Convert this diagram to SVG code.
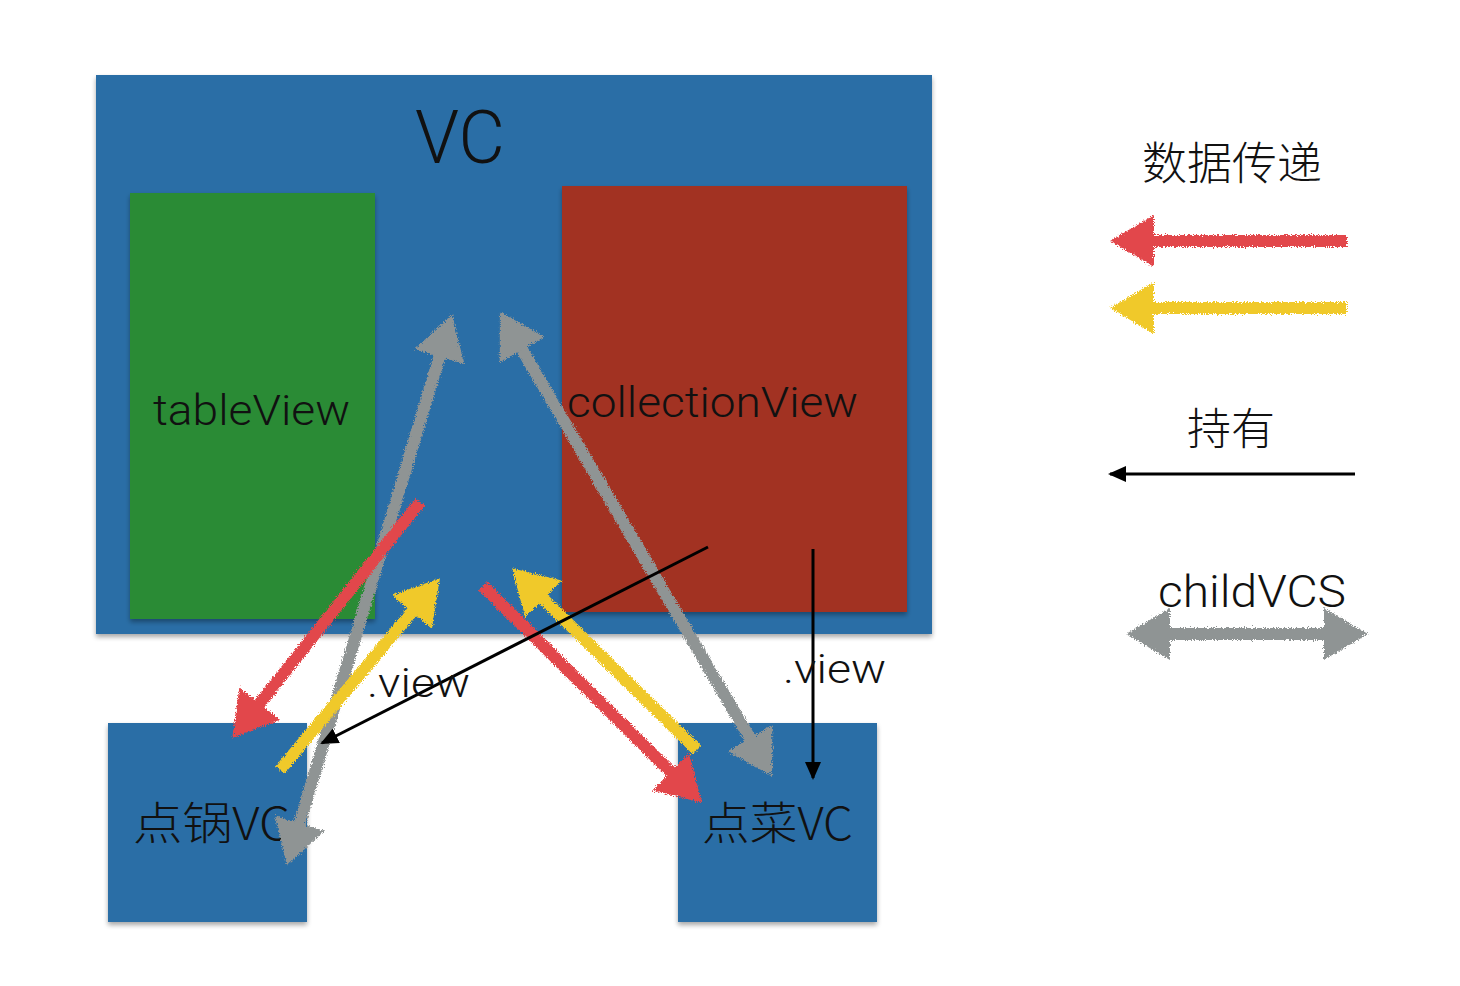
<svg xmlns="http://www.w3.org/2000/svg" width="1460" height="986" viewBox="0 0 1460 986">
<style>
.box{fill:#2a6ea6;filter:url(#shadow)}
.txt{font-family:Roboto,"Liberation Sans","Noto Sans CJK SC",sans-serif;font-weight:300;fill:#111}
.cjk{font-family:"Noto Sans CJK SC",sans-serif;font-weight:300;fill:#111}
.chalk{fill:none;stroke-width:12;stroke-linecap:butt;filter:url(#rough)}
.red{stroke:#e2474b}
.yellow{stroke:#f0c92a}
.gray{stroke:#8f9494}
.blk{fill:none;stroke:#000;stroke-width:3}
</style>
<defs>
<filter id="rough" filterUnits="userSpaceOnUse" x="0" y="0" width="1460" height="986">
<feTurbulence type="fractalNoise" baseFrequency="0.9" numOctaves="2" seed="3" result="n"/>
<feDisplacementMap in="SourceGraphic" in2="n" scale="6" xChannelSelector="R" yChannelSelector="G"/>
</filter>
<filter id="shadow" x="-5%" y="-5%" width="110%" height="110%">
<feGaussianBlur in="SourceAlpha" stdDeviation="2.5"/>
<feOffset dx="0" dy="3" result="b"/>
<feComponentTransfer><feFuncA type="linear" slope="0.35"/></feComponentTransfer>
<feMerge><feMergeNode/><feMergeNode in="SourceGraphic"/></feMerge>
</filter>
<marker id="hr" viewBox="0 0 44 52" markerWidth="44" markerHeight="52" refX="30" refY="26" orient="auto-start-reverse" markerUnits="userSpaceOnUse"><path d="M0,0 L44,26 L0,52 z" fill="#e2474b"/></marker>
<marker id="hy" viewBox="0 0 44 52" markerWidth="44" markerHeight="52" refX="30" refY="26" orient="auto-start-reverse" markerUnits="userSpaceOnUse"><path d="M0,0 L44,26 L0,52 z" fill="#f0c92a"/></marker>
<marker id="hg" viewBox="0 0 44 52" markerWidth="44" markerHeight="52" refX="30" refY="26" orient="auto-start-reverse" markerUnits="userSpaceOnUse"><path d="M0,0 L44,26 L0,52 z" fill="#8f9494"/></marker>
<marker id="hb" viewBox="0 0 18 16" markerWidth="18" markerHeight="16" refX="16" refY="8" orient="auto" markerUnits="userSpaceOnUse"><path d="M0,0 L18,8 L0,16 z" fill="#000"/></marker>
</defs>
<rect width="1460" height="986" fill="#fff"/>

<g id="vc">
<rect class="box" x="96" y="75" width="836" height="559"/>
<text class="txt" x="415" y="163" font-size="74" textLength="90" lengthAdjust="spacingAndGlyphs">VC</text>
</g>
<g id="tableView">
<rect x="130" y="193" width="245" height="426" fill="#2a8b36" filter="url(#shadow)"/>
<text class="txt" x="153" y="425" font-size="43" textLength="197" lengthAdjust="spacingAndGlyphs">tableView</text>
</g>
<g id="collectionView">
<rect x="562" y="186" width="345" height="426" fill="#a23324" filter="url(#shadow)"/>
<text class="txt" x="567" y="417" font-size="43" textLength="291" lengthAdjust="spacingAndGlyphs">collectionView</text>
</g>
<g id="dianguoVC">
<rect class="box" x="108" y="723" width="199" height="199"/>
<text class="cjk" x="133" y="840" font-size="45" textLength="157" lengthAdjust="spacingAndGlyphs">点锅VC</text>
</g>
<g id="diancaiVC">
<rect class="box" x="678" y="723" width="199" height="199"/>
<text class="cjk" x="702" y="840" font-size="45" textLength="151" lengthAdjust="spacingAndGlyphs">点菜VC</text>
</g>

<g id="connectors">
<line class="chalk gray" x1="291" y1="852" x2="448" y2="328" marker-start="url(#hg)" marker-end="url(#hg)"/>
<line class="chalk gray" x1="507" y1="324" x2="765" y2="764" marker-start="url(#hg)" marker-end="url(#hg)"/>
<line class="chalk red" x1="420" y1="502" x2="241" y2="727" marker-end="url(#hr)"/>
<line class="chalk yellow" x1="280" y1="770" x2="431" y2="589" marker-end="url(#hy)"/>
<line class="chalk red" x1="483" y1="586" x2="692" y2="793" marker-end="url(#hr)"/>
<line class="chalk yellow" x1="697" y1="750" x2="522" y2="578" marker-end="url(#hy)"/>
<line class="blk" x1="708" y1="547" x2="322" y2="743" marker-end="url(#hb)"/>
<line class="blk" x1="813" y1="549" x2="813" y2="778" marker-end="url(#hb)"/>
<text class="txt" x="367" y="697" font-size="41" textLength="103" lengthAdjust="spacingAndGlyphs">.view</text>
<text class="txt" x="783" y="683" font-size="41" textLength="103" lengthAdjust="spacingAndGlyphs">.view</text>
</g>

<g id="legend">
<text class="cjk" x="1232" y="180" font-size="45" text-anchor="middle">数据传递</text>
<line class="chalk red" x1="1347" y1="241" x2="1124" y2="241" marker-end="url(#hr)"/>
<line class="chalk yellow" x1="1347" y1="308" x2="1124" y2="308" marker-end="url(#hy)"/>
<text class="cjk" x="1231" y="445" font-size="44" text-anchor="middle">持有</text>
<line class="blk" x1="1355" y1="474" x2="1110" y2="474" marker-end="url(#hb)"/>
<text class="txt" x="1158" y="607" font-size="45" textLength="188" lengthAdjust="spacingAndGlyphs">childVCS</text>
<line class="chalk gray" x1="1140" y1="634" x2="1354" y2="634" marker-start="url(#hg)" marker-end="url(#hg)"/>
</g>
</svg>
